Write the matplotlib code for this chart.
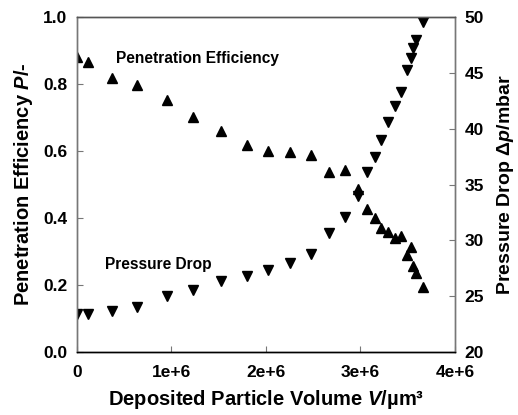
import matplotlib
matplotlib.use("Agg")
import matplotlib.pyplot as plt

plt.rcParams['font.family'] = ['Liberation Sans', 'DejaVu Sans']
plt.rcParams['font.weight'] = 'bold'
plt.rcParams['mathtext.fontset'] = 'custom'
plt.rcParams['mathtext.rm'] = 'Liberation Sans:bold'
plt.rcParams['mathtext.it'] = 'Liberation Sans:bold:italic'
plt.rcParams['mathtext.bf'] = 'Liberation Sans:bold'

# Deposited particle volume (µm³)
volume = [0.0, 0.113e6, 0.374e6, 0.638e6, 0.952e6, 1.231e6, 1.52e6, 1.80e6, 2.02e6,
          2.25e6, 2.48e6, 2.67e6, 2.84e6, 2.97e6, 3.07e6, 3.15e6, 3.22e6, 3.29e6,
          3.37e6, 3.43e6, 3.49e6, 3.53e6, 3.56e6, 3.59e6, 3.66e6]
# Penetration efficiency P (-)
penetration = [0.881, 0.865, 0.819, 0.797, 0.752, 0.702, 0.660, 0.618, 0.600,
               0.596, 0.588, 0.536, 0.543, 0.486, 0.426, 0.399, 0.371, 0.357,
               0.339, 0.346, 0.290, 0.312, 0.258, 0.235, 0.195]
# Pressure drop (mbar)
pressure = [23.38, 23.38, 23.70, 24.06, 25.04, 25.55, 26.36, 26.83, 27.34,
            27.94, 28.75, 30.68, 32.11, 33.95, 36.12, 37.48, 38.98, 40.62,
            42.02, 43.25, 45.25, 46.35, 47.19, 47.93, 49.57]

xticks = [0, 1e6, 2e6, 3e6, 4e6]
xticklabels = ['0', '1e+6', '2e+6', '3e+6', '4e+6']
left_ticks = [0.0, 0.2, 0.4, 0.6, 0.8, 1.0]
right_ticks = [20, 25, 30, 35, 40, 45, 50]

fig = plt.figure(figsize=(5.18, 4.15), dpi=100)
ax = fig.add_axes([0.1486, 0.1518, 0.7297, 0.8072])
ax2 = ax.twinx()

ax.plot(volume, penetration, linestyle='none', marker='^', color='black', markersize=6.8)
ax2.plot(volume, pressure, linestyle='none', marker='v', color='black', markersize=6.8)

ax.set_xlim(0, 4e6)
ax.set_ylim(0, 1.0)
ax2.set_ylim(20, 50)
ax.set_xticks(xticks)
ax.set_xticklabels(xticklabels)
ax.set_yticks(left_ticks)
ax.set_yticklabels([f'{v:.1f}' for v in left_ticks])
ax2.set_yticks(right_ticks)

for a in (ax, ax2):
    a.tick_params(direction='in', length=4, width=0.8, color='#777777', labelsize=12.5, pad=7)
    for s in a.spines.values():
        s.set_color('#777777')
        s.set_linewidth(1.0)
    a.spines['bottom'].set_color('black')
    a.spines['top'].set_color('#555555')
ax.tick_params(axis='x', pad=9)

ax.set_xlabel('Deposited Particle Volume $\\mathit{V}$/µm³', fontsize=14.5, fontweight='bold', labelpad=6)
ax.set_ylabel('Penetration Efficiency $\\mathit{P}$/-', fontsize=14.5, fontweight='bold', labelpad=6)
ax2.set_ylabel('Pressure Drop $\\mathit{Δp}$/mbar', fontsize=14, fontweight='bold', labelpad=8)

ax.text(0.104, 0.875, 'Penetration Efficiency', transform=ax.transAxes, fontsize=11.2,
        fontweight='bold', va='center', ha='left')
ax.text(0.075, 0.262, 'Pressure Drop', transform=ax.transAxes, fontsize=11.2,
        fontweight='bold', va='center', ha='left')

fig.savefig('out.png', dpi=100)
